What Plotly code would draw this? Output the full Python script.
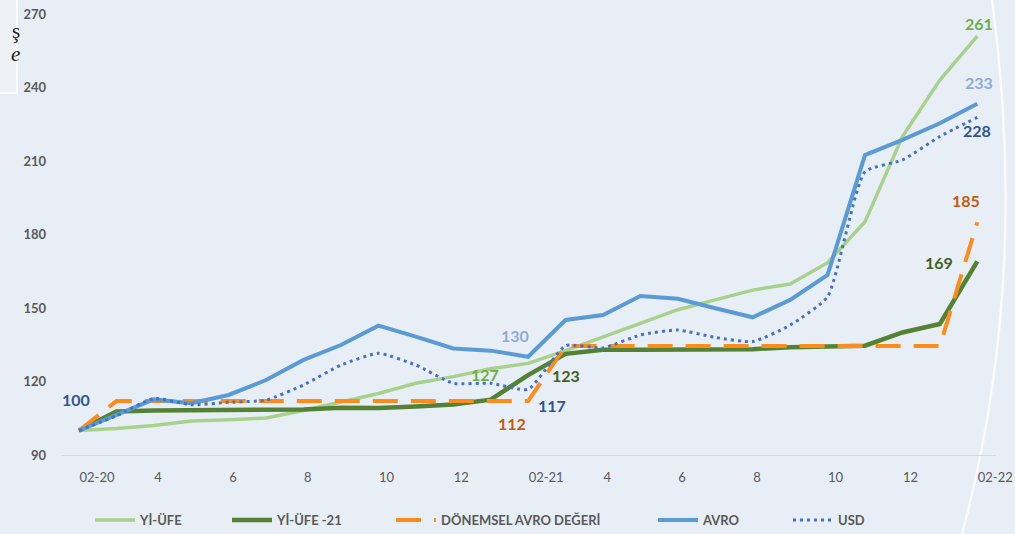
import plotly.graph_objects as go

months = ["02-20", "03-20", "04-20", "05-20", "06-20", "07-20", "08-20", "09-20", "10-20",
          "11-20", "12-20", "01-21", "02-21", "03-21", "04-21", "05-21", "06-21", "07-21",
          "08-21", "09-21", "10-21", "11-21", "12-21", "01-22", "02-22"]
tick_months = ["02-20", "04-20", "06-20", "08-20", "10-20", "12-20", "02-21",
               "04-21", "06-21", "08-21", "10-21", "12-21", "02-22"]
tick_labels = ["02-20", "4", "6", "8", "10", "12", "02-21", "4", "6", "8", "10", "12", "02-22"]

yi_ufe = [100, 100.8, 102.0, 103.9, 104.4, 105.1, 108.2, 111.5, 115.1, 119.3, 122.0, 125.2,
          127.4, 132.6, 138.2, 143.5, 149.3, 153.3, 157.3, 159.8, 168.5, 185.2, 220.0, 243.0, 261.0]
yi_ufe_21 = [100, 107.8, 108.2, 108.4, 108.6, 108.5, 108.6, 109.3, 109.2, 109.8, 110.6, 112.6,
             122.6, 131.3, 133.0, 133.0, 133.0, 133.1, 133.2, 134.0, 134.3, 134.6, 140.0, 143.5, 169.0]
donemsel = [100, 112, 112, 112, 112, 112, 112, 112, 112, 112, 112, 112,
            112, 134.5, 134.5, 134.5, 134.5, 134.5, 134.5, 134.5, 134.5, 134.5, 134.5, 134.5, 185]
avro = [100, 106.5, 112.7, 111.1, 114.5, 120.6, 128.8, 134.9, 142.8, 138.3, 133.5, 132.6,
        130.1, 145.1, 147.1, 154.9, 153.8, 149.9, 146.2, 153.3, 163.5, 212.4, 218.6, 225.4, 233.4]
usd = [100, 106.0, 113.1, 110.5, 111.5, 112.4, 118.6, 126.7, 131.5, 126.7, 119.3, 119.3,
       116.8, 134.6, 133.7, 139.0, 141.0, 138.0, 136.3, 143.0, 154.6, 205.6, 210.4, 220.0, 227.8]

series_names = ["Yİ-ÜFE", "Yİ-ÜFE -21", "DÖNEMSEL AVRO DEĞERİ", "AVRO", "USD"]

FONT = "Lato"
GRAY = "#595959"
BG = "#e8eef5"

PLOT_L, PLOT_R, PLOT_T, PLOT_B = 61, 996, 14, 455


def px2paper(px, py):
    return (px - PLOT_L) / (PLOT_R - PLOT_L), (PLOT_B - py) / (PLOT_B - PLOT_T)


fig = go.Figure()
fig.add_trace(go.Scatter(x=months, y=yi_ufe, name=series_names[0], mode="lines", legend="legend",
                         line=dict(color="#a9d18e", width=3.5)))
fig.add_trace(go.Scatter(x=months, y=yi_ufe_21, name=series_names[1], mode="lines", legend="legend2",
                         line=dict(color="#548235", width=4.5)))
fig.add_trace(go.Scatter(x=months, y=donemsel, name=series_names[2], mode="lines", legend="legend3",
                         line=dict(color="#ff8c1a", width=4, dash="25px,13px")))
fig.add_trace(go.Scatter(x=months, y=avro, name=series_names[3], mode="lines", legend="legend4",
                         line=dict(color="#5b9bd5", width=4)))
fig.add_trace(go.Scatter(x=months, y=usd, name=series_names[4], mode="lines", legend="legend5",
                         line=dict(color="#4472c4", width=3, dash="3px,4px", shape="spline", smoothing=0.5)))

# data labels: (month, value, text, color, xshift, yshift)
labels = [
    (months[0], avro[0], "100", "#2f5597", -3, 31),
    (months[12], avro[12], "130", "#8faadc", -13, 21),
    (months[12], yi_ufe[12], "127", "#70ad47", -43, -11),
    (months[12], yi_ufe_21[12], "123", "#3f5f27", 38, 0),
    (months[12], usd[12], "117", "#2f5597", 24, -16),
    (months[12], donemsel[12], "112", "#c55a11", -16, -22),
    (months[24], yi_ufe[24], "261", "#70ad47", 2, 13),
    (months[24], avro[24], "233", "#8faadc", 2, 21),
    (months[24], usd[24], "228", "#2f5597", 0, -13),
    (months[24], donemsel[24], "185", "#c55a11", -11, 22),
    (months[24], yi_ufe_21[24], "169", "#3f5f27", -38, -1),
]
for xm, yv, txt, col, xs, ys in labels:
    fig.add_annotation(x=xm, y=yv, text=txt, showarrow=False, xshift=xs, yshift=ys,
                       font=dict(family=FONT, size=16, color=col, weight="bold"))

# decorative arc on the right side
a = px2paper(992, 0)
c = px2paper(1030, 280)
b = px2paper(962, 534)
fig.add_shape(type="path", xref="paper", yref="paper",
              path=f"M {a[0]},{a[1]} Q {c[0]},{c[1]} {b[0]},{b[1]}",
              line=dict(color="rgba(255,255,255,0.75)", width=2.5), layer="below")

# partial text box at top-left
r0 = px2paper(-20, -20)
r1 = px2paper(17, 93)
fig.add_shape(type="rect", xref="paper", yref="paper", x0=r0[0], y0=r0[1], x1=r1[0], y1=r1[1],
              line=dict(color="rgba(255,255,255,0.95)", width=2), fillcolor="#edf1f6")
p = px2paper(10, 17)
fig.add_annotation(xref="paper", yref="paper", x=p[0], y=p[1], text="ş", showarrow=False,
                   font=dict(family="Liberation Serif", size=21, color="#222222"))
p = px2paper(9, 40)
fig.add_annotation(xref="paper", yref="paper", x=p[0], y=p[1], text="<i>e</i>", showarrow=False,
                   font=dict(family="Liberation Serif", size=21, color="#222222"))

# one legend per series, positioned like the reference
legend_line_starts = [97, 234, 398, 660, 795]
legend_common = dict(orientation="h", xanchor="left", yanchor="middle",
                     font=dict(family=FONT, size=13, color=GRAY, weight="bold"),
                     bgcolor="rgba(0,0,0,0)", itemwidth=40)
legends = {}
for i, lx in enumerate(legend_line_starts):
    key = "legend" if i == 0 else f"legend{i + 1}"
    px, py = px2paper(lx - 7, 520)
    legends[key] = dict(legend_common, x=px, y=py)

fig.update_layout(
    width=1015, height=534,
    margin=dict(l=PLOT_L, r=1015 - PLOT_R, t=PLOT_T, b=534 - PLOT_B, autoexpand=False),
    paper_bgcolor=BG, plot_bgcolor=BG,
    font=dict(family=FONT, color=GRAY),
    showlegend=True,
    **legends,
    xaxis=dict(type="category", range=[-0.48, 24.5], tickmode="array",
               tickvals=tick_months, ticktext=tick_labels, automargin=False,
               ticklabelposition="outside right", ticklabelstandoff=10,
               showgrid=False, zeroline=False, showline=True, linecolor="#d3d8de", linewidth=1,
               ticks="", tickfont=dict(family=FONT, size=13, color=GRAY)),
    yaxis=dict(range=[90, 270], tickmode="array", tickvals=[90, 120, 150, 180, 210, 240, 270],
               showgrid=False, zeroline=False, showline=False, ticks="", automargin=False,
               ticklabelstandoff=14,
               tickfont=dict(family=FONT, size=13, color=GRAY, weight="bold")),
)

fig.write_html("out.html", config={"displayModeBar": False},
               post_script="document.body.style.margin='0';document.body.style.overflow='hidden';"
                           "document.body.style.background='" + BG + "';")
